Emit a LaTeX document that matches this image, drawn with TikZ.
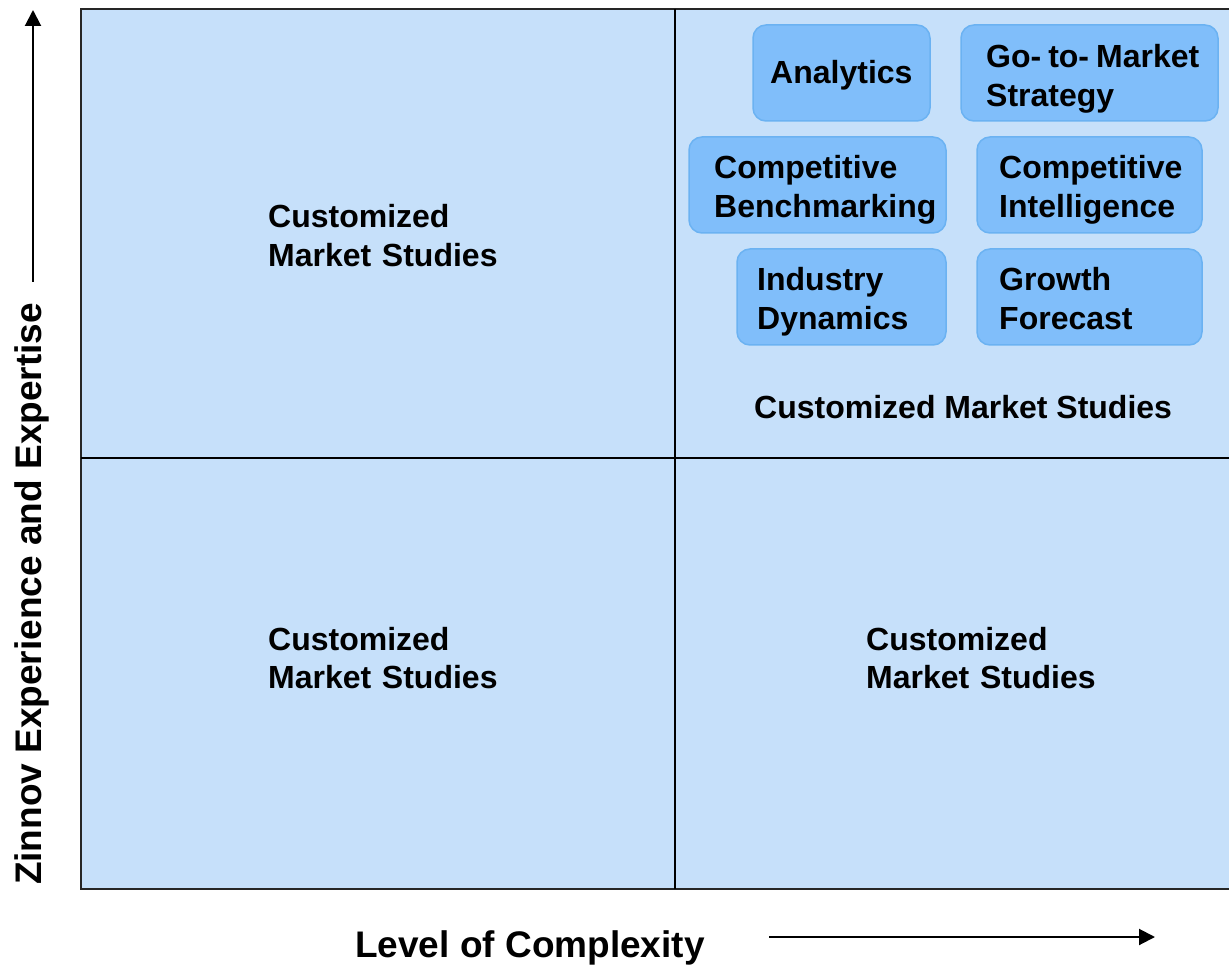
\documentclass[tikz,border=0pt]{standalone}
\usepackage{fontspec}
\setmainfont{Liberation Sans}
\usetikzlibrary{arrows.meta}
\definecolor{quadfill}{HTML}{C6E0FA}
\definecolor{boxfill}{HTML}{80BEFA}
\definecolor{boxline}{HTML}{6BB2F2}
\tikzset{
  svcbox/.style={draw=boxline, fill=boxfill, line width=1.5pt, rounded corners=13pt, inner sep=0pt},
  txt/.style={font=\fontsize{32}{38.5}\selectfont\bfseries, inner sep=0pt, anchor=base west},
  txtml/.style={txt, text width=320pt, align=left},
  axislabel/.style={font=\fontsize{37}{44}\selectfont\bfseries, inner sep=0pt},
  axisarrow/.style={line width=2pt, -{Triangle[length=16pt,width=16pt]}},
}
\begin{document}
\begin{tikzpicture}[x=1pt,y=-1pt]
\useasboundingbox (0,0) rectangle (1229,965);
% quadrant grid
\coordinate (tl) at (81,9);
\coordinate (br) at (1245,889);
\coordinate (vt) at (675,9);
\coordinate (vb) at (675,889);
\coordinate (hl) at (81,458);
\coordinate (hr) at (1245,458);
\draw[fill=quadfill, draw=black!85, line width=2pt] (tl) rectangle (br);
\draw[line width=1.3pt] (vt) -- (vb);
\draw[line width=1.3pt] (hl) -- (hr);

% service boxes
\node[svcbox, minimum width=177pt, minimum height=96pt] (ana) at (841.5,73) {};
\node[svcbox, minimum width=257pt, minimum height=96pt] (gtm) at (1089.5,73) {};
\node[svcbox, minimum width=257pt, minimum height=96pt] (cb) at (817.5,185) {};
\node[svcbox, minimum width=225pt, minimum height=96pt] (ci) at (1089.5,185) {};
\node[svcbox, minimum width=209pt, minimum height=96pt] (ind) at (841.5,297) {};
\node[svcbox, minimum width=225pt, minimum height=96pt] (gf) at (1089.5,297) {};

\node[txt] (anat) at (770,84) {Analytics};
\node[txtml] (gtmt) at (986,68) {Go-\hspace{7pt}to-\hspace{7pt}Market\\Strategy};
\node[txtml] (cbt) at (714,179) {Competitive\\Benchmarking};
\node[txtml] (cit) at (999,179) {Competitive\\Intelligence};
\node[txtml] (indt) at (757,291) {Industry\\Dynamics};
\node[txtml] (gft) at (999,291) {Growth\\Forecast};

% quadrant labels
\node[txtml] (qtl) at (268,228) {Customized\\Market Studies};
\node[txt] (qtr) at (754,419) {Customized Market Studies};
\node[txtml] (qbl) at (268,650) {Customized\\Market Studies};
\node[txtml] (qbr) at (866,650) {Customized\\Market Studies};

% axes
\node[axislabel, anchor=base, rotate=90] (ylab) at (41,594) {Zinnov Experience and Expertise};
\node[axislabel, anchor=base] (xlab) at (530,957) {Level of Complexity};
\coordinate (ya) at (33,282);
\coordinate (yb) at (33,10);
\coordinate (xa) at (769,937);
\coordinate (xb) at (1155,937);
\draw[axisarrow] (ya) -- (yb);
\draw[axisarrow] (xa) -- (xb);
\end{tikzpicture}
\end{document}
